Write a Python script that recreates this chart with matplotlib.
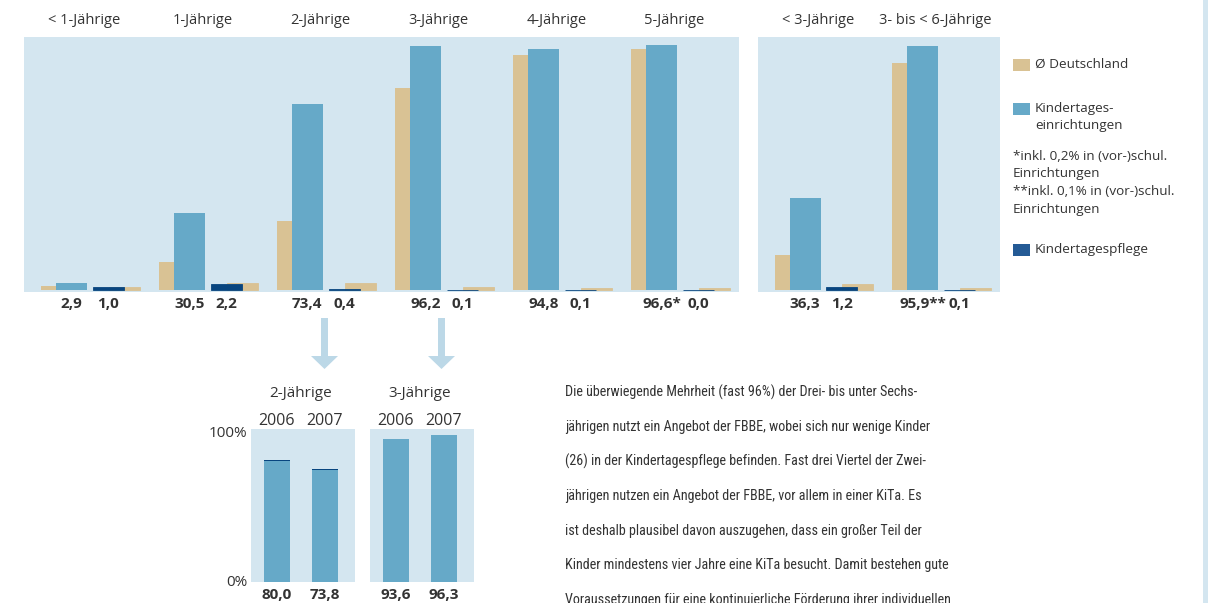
import numpy as np
import matplotlib
matplotlib.use("Agg")
import matplotlib.pyplot as plt
from matplotlib.patches import Rectangle, Polygon
from matplotlib import font_manager

plt.rcParams['font.family'] = ['Open Sans', 'DejaVu Sans']

## Daten (Prozent)
groups1 = ['< 1-Jährige', '1-Jährige', '2-Jährige', '3-Jährige', '4-Jährige', '5-Jährige']
kita1 = [2.9, 30.5, 73.4, 96.2, 94.8, 96.6]
de_kita1 = [1.6, 11.0, 27.2, 79.5, 92.5, 95.0]
pflege1 = [1.0, 2.2, 0.4, 0.1, 0.1, 0.0]
de_pflege1 = [1.2, 2.8, 2.8, 1.2, 0.8, 0.8]
kita_lbl1 = ['2,9', '30,5', '73,4', '96,2', '94,8', '96,6*']
pflege_lbl1 = ['1,0', '2,2', '0,4', '0,1', '0,1', '0,0']

groups2 = ['< 3-Jährige', '3- bis < 6-Jährige']
kita2 = [36.3, 95.9]
de_kita2 = [13.8, 89.4]
pflege2 = [1.2, 0.1]
de_pflege2 = [2.4, 0.8]
kita_lbl2 = ['36,3', '95,9**']
pflege_lbl2 = ['1,2', '0,1']

## Zeitvergleich 2006/2007 (Kita + Tagespflege gestapelt)
years = ['2006', '2007']
zeit_groups = ['2-Jährige', '3-Jährige']
zeit_kita = [[79.4, 73.4], [93.3, 96.2]]
zeit_pflege = [[0.6, 0.4], [0.3, 0.1]]
zeit_lbl = [['80,0', '73,8'], ['93,6', '96,3']]

legend_items = ['Ø Deutschland', 'Kindertages-\neinrichtungen', 'Kindertagespflege']
footnote = '*inkl. 0,2% in (vor-)schul.\nEinrichtungen\n**inkl. 0,1% in (vor-)schul.\nEinrichtungen'

paragraph = [
    'Die überwiegende Mehrheit (fast 96%) der Drei- bis unter Sechs-',
    'jährigen nutzt ein Angebot der FBBE, wobei sich nur wenige Kinder',
    '(26) in der Kindertagespflege befinden. Fast drei Viertel der Zwei-',
    'jährigen nutzen ein Angebot der FBBE, vor allem in einer KiTa. Es',
    'ist deshalb plausibel davon auszugehen, dass ein großer Teil der',
    'Kinder mindestens vier Jahre eine KiTa besucht. Damit bestehen gute',
    'Voraussetzungen für eine kontinuierliche Förderung ihrer individuellen',
]

BG = '#d4e6f0'
TAN = '#d9c294'
KITA = '#66a9c8'
DARK = '#08457f'
TXT = '#333333'

W, H = 1208, 603
fig = plt.figure(figsize=(W / 100, H / 100), dpi=100)


def px_axes(l, t, r, b):
    return fig.add_axes([l / W, 1 - b / H, (r - l) / W, (b - t) / H])


bw = 31 / 118   # Balkenbreite in Gruppeneinheiten


def draw_panel(ax, groups, kita, de_kita, pflege, de_pflege, klbl, plbl):
    x = np.arange(len(groups))
    ax.set_facecolor(BG)
    ax.bar(x - 15 / 118, de_kita, bw, color=TAN, zorder=1)
    ax.bar(x, kita, bw, color=KITA, zorder=2)
    xp = x + 37 / 118
    ax.bar(xp + 16 / 118, de_pflege, bw, color=TAN, edgecolor=TAN, linewidth=0.6, zorder=1)
    ax.bar(xp, pflege, bw, color=DARK, edgecolor=DARK, linewidth=0.6, zorder=2)
    for i in range(len(groups)):
        ax.text(x[i] + 0.11, 106.0, groups[i], ha='center', va='center',
                fontsize=10.5, color=TXT, clip_on=False)
        ax.text(x[i], -5.6, klbl[i], ha='center', va='center', fontsize=11,
                fontweight='bold', color=TXT, clip_on=False)
        ax.text(xp[i], -5.6, plbl[i], ha='center', va='center', fontsize=11,
                fontweight='bold', color=TXT, clip_on=False)
    ax.set_xlim(-0.40, len(groups) - 0.343)
    ax.set_ylim(-0.79, 99.6)
    ax.set_xticks([])
    ax.set_yticks([])
    for s in ax.spines.values():
        s.set_visible(False)


ax1 = px_axes(24, 37, 739, 292)
draw_panel(ax1, groups1, kita1, de_kita1, pflege1, de_pflege1, kita_lbl1, pflege_lbl1)
ax2 = px_axes(758, 37, 1000, 292)
draw_panel(ax2, groups2, kita2, de_kita2, pflege2, de_pflege2, kita_lbl2, pflege_lbl2)

## kleine Diagramme 2006/2007
for k, left in enumerate([251, 370]):
    ax = px_axes(left, 429, left + 104, 582)
    ax.set_facecolor(BG)
    xx = np.arange(len(years))
    ax.bar(xx, zeit_kita[k], 0.54, color=KITA)
    ax.bar(xx, zeit_pflege[k], 0.54, bottom=zeit_kita[k], color=DARK)
    ax.set_xlim(-0.54, 1.625)
    ax.set_ylim(0, 100)
    ax.set_xticks([])
    ax.set_yticks([])
    for s in ax.spines.values():
        s.set_visible(False)
    for i in range(len(years)):
        ax.text(xx[i], 105.5, years[i], ha='center', va='center', fontsize=11.5,
                color=TXT, clip_on=False)
        ax.text(xx[i], -8.8, zeit_lbl[k][i], ha='center', va='center', fontsize=11,
                fontweight='bold', color=TXT, clip_on=False)
    ax.text(0.5, 123, zeit_groups[k], ha='center', va='center', fontsize=11,
            color=TXT, clip_on=False)
    if k == 0:
        ax.text(-0.62, 97, '100%', ha='right', va='center', fontsize=11, color=TXT, clip_on=False)
        ax.text(-0.62, 0, '0%', ha='right', va='center', fontsize=11, color=TXT, clip_on=False)

## Overlay: Pfeile, Legende, Text
ov = fig.add_axes([0, 0, 1, 1], zorder=-1)
ov.set_xlim(0, W)
ov.set_ylim(H, 0)
ov.axis('off')

for cx in [324.5, 441.5]:
    ov.add_patch(Rectangle((cx - 3.5, 318), 7, 40, color='#bcd8e7', lw=0))
    ov.add_patch(Polygon([(cx - 13.5, 356), (cx + 13.5, 356), (cx, 369)],
                         closed=True, color='#bcd8e7', lw=0))

ov.add_patch(Rectangle((1203, 0), 5, H, color=BG, lw=0))

leg_cols = [TAN, KITA, '#245a95']
leg_y = [65, 109, 250]
for c, y, t in zip(leg_cols, leg_y, legend_items):
    ov.add_patch(Rectangle((1013, y - 6), 17, 12, color=c, lw=0))
    ov.text(1035, y - 7, t, ha='left', va='top', fontsize=9.7, color=TXT,
            linespacing=1.4)
ov.text(1013, 150, footnote, ha='left', va='top', fontsize=9.7, color=TXT,
        linespacing=1.45)

## schmale Schrift, falls vorhanden
avail = {f.name for f in font_manager.fontManager.ttflist}
narrow = [f for f in ['Roboto Condensed', 'Liberation Sans Narrow', 'Roboto'] if f in avail]
pfam = narrow[:1] + ['DejaVu Sans']

ptexts = []
for j, line in enumerate(paragraph):
    ptexts.append(ov.text(565, 392 + j * 34.7, line, ha='left', va='center',
                          fontsize=12, color=TXT, family=pfam))
fig.canvas.draw()
wpx = ptexts[0].get_window_extent().width
fs = 12 * 355 / wpx
for t in ptexts:
    t.set_fontsize(fs)

fig.savefig('out.png', dpi=100)
